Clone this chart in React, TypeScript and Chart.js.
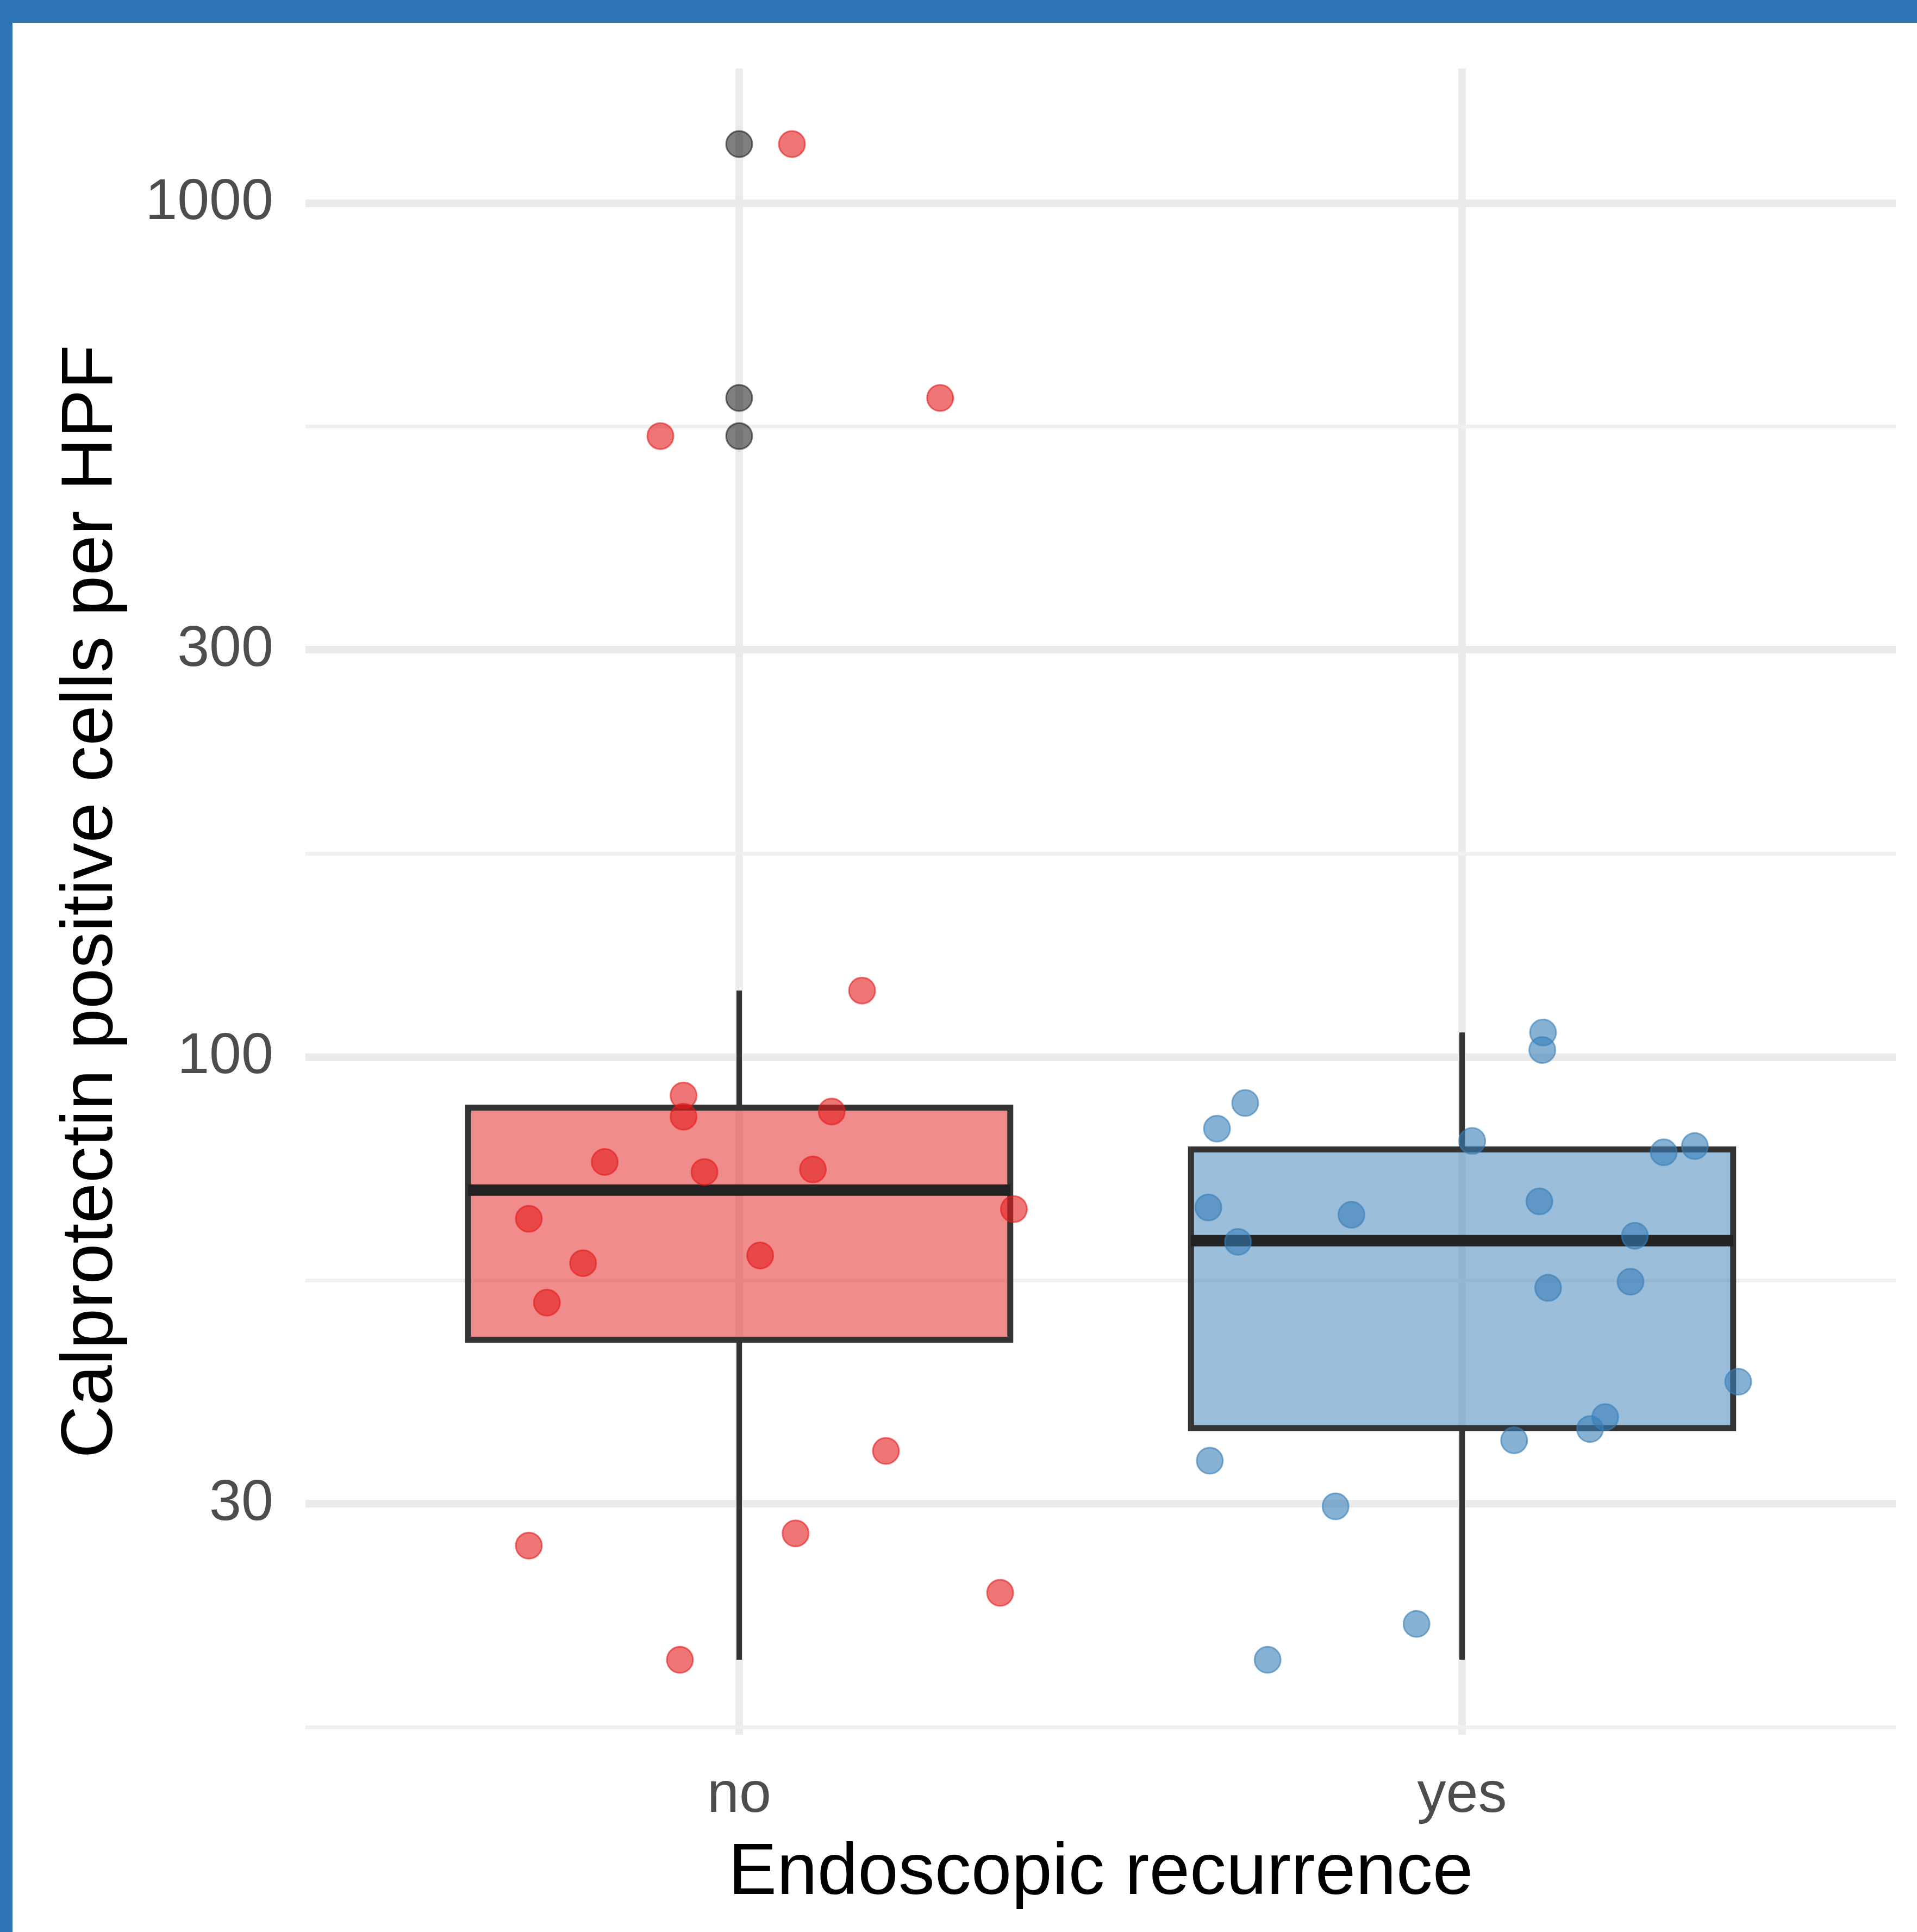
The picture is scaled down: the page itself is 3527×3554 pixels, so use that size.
import React, { useEffect, useRef } from 'react';
import { Chart, registerables } from 'chart.js';

Chart.register(...registerables);

// ---- data ----
const categories = ['no', 'yes'];
const yMajorTicks = [30, 100, 300, 1000];
const yMinorTicks = [16.43, 54.77, 173.2, 547.7];

const noValues = [1173, 591.6, 533.8, 119.7, 90.2, 85.2, 86.4, 75.4, 73.4, 73.9, 66.4, 64.7, 57.4, 58.6, 51.6, 34.6, 26.8, 27.7, 23.6, 19.7];
const noJitter = [0.073, 0.278, -0.109, 0.17, -0.077, -0.077, 0.128, -0.186, -0.048, 0.102, 0.38, -0.291, -0.216, 0.029, -0.266, 0.203, -0.291, 0.078, 0.361, -0.082];

const yesValues = [106.9, 102.0, 88.4, 82.5, 79.8, 77.4, 78.7, 66.7, 67.8, 65.4, 60.8, 61.8, 53.7, 54.6, 41.7, 37.9, 36.7, 35.6, 33.7, 29.8, 21.7, 19.7];
const yesJitter = [0.112, 0.111, -0.3, -0.339, 0.014, 0.279, 0.322, -0.351, 0.107, -0.153, -0.31, 0.239, 0.119, 0.233, 0.382, 0.198, 0.177, 0.072, -0.349, -0.175, -0.063, -0.269];

const noOutliers = [1173, 591.6, 533.8];

const boxQ1 = [46.7, 36.8];
const boxMedian = [69.9, 61.0];
const boxQ3 = [87.3, 78.0];
const whiskerLow = [19.7, 19.7];
const whiskerHigh = [119.7, 106.9];

// ---- styles ----
const FONT = "'Liberation Sans', Arial, Helvetica, sans-serif";
const boxFill = ['rgba(228,26,28,0.5)', 'rgba(55,126,184,0.5)'];
const pointFill = ['rgba(228,26,28,0.6)', 'rgba(55,126,184,0.6)'];
const BOX_HALF = 0.375;

const boxPlugin = {
  id: 'boxplotDraw',
  beforeDatasetsDraw(chart: any) {
    const { ctx, scales } = chart;
    const x = scales.x;
    const y = scales.y;
    ctx.save();
    categories.forEach((_, i) => {
      const c = i + 1;
      const cx = x.getPixelForValue(c);
      const l = x.getPixelForValue(c - BOX_HALF);
      const r = x.getPixelForValue(c + BOX_HALF);
      const yq1 = y.getPixelForValue(boxQ1[i]);
      const yq3 = y.getPixelForValue(boxQ3[i]);
      const ym = y.getPixelForValue(boxMedian[i]);
      const ylo = y.getPixelForValue(whiskerLow[i]);
      const yhi = y.getPixelForValue(whiskerHigh[i]);
      // whiskers
      ctx.strokeStyle = '#333333';
      ctx.lineWidth = 10;
      ctx.lineCap = 'butt';
      ctx.beginPath();
      ctx.moveTo(cx, yq3);
      ctx.lineTo(cx, yhi);
      ctx.moveTo(cx, yq1);
      ctx.lineTo(cx, ylo);
      ctx.stroke();
      // box
      ctx.fillStyle = boxFill[i];
      ctx.fillRect(l, yq3, r - l, yq1 - yq3);
      ctx.lineWidth = 11;
      ctx.lineJoin = 'miter';
      ctx.strokeRect(l, yq3, r - l, yq1 - yq3);
      // median
      ctx.strokeStyle = '#222222';
      ctx.lineWidth = 21;
      ctx.beginPath();
      ctx.moveTo(l, ym);
      ctx.lineTo(r, ym);
      ctx.stroke();
    });
    ctx.restore();
  },
};

export default function App() {
  const canvasRef = useRef<HTMLCanvasElement | null>(null);

  useEffect(() => {
    document.body.style.margin = '0';
    const canvas = canvasRef.current;
    if (!canvas) return;

    const chart = new Chart(canvas, {
      type: 'scatter',
      data: {
        datasets: [
          {
            label: 'no',
            data: noValues.map((v, i) => ({ x: 1 + noJitter[i], y: v })),
            backgroundColor: pointFill[0],
            borderColor: pointFill[0],
            borderWidth: 3,
            pointRadius: 24,
            order: 1,
          },
          {
            label: 'yes',
            data: yesValues.map((v, i) => ({ x: 2 + yesJitter[i], y: v })),
            backgroundColor: pointFill[1],
            borderColor: pointFill[1],
            borderWidth: 3,
            pointRadius: 24,
            order: 1,
          },
          {
            label: 'outliers',
            data: noOutliers.map((v) => ({ x: 1, y: v })),
            backgroundColor: 'rgba(0,0,0,0.5)',
            borderColor: 'rgba(0,0,0,0.5)',
            borderWidth: 3,
            pointRadius: 24,
            order: 2,
          },
        ],
      },
      options: {
        responsive: false,
        animation: false,
        devicePixelRatio: 1,
        layout: { padding: { top: 126, right: 39, left: 0, bottom: 0 } },
        plugins: {
          legend: { display: false },
          tooltip: { enabled: false },
        },
        scales: {
          x: {
            type: 'linear',
            min: 0.4,
            max: 2.6,
            bounds: 'data',
            afterBuildTicks: (s: any) => {
              s.ticks = categories.map((_, i) => ({ value: i + 1 }));
            },
            afterFit: (s: any) => {
              s.height = 363;
            },
            ticks: {
              autoSkip: false,
              maxRotation: 0,
              padding: 49,
              color: '#4D4D4D',
              font: { family: FONT, size: 106 },
              callback: (v: any) => categories[Math.round(Number(v)) - 1] ?? '',
            },
            grid: { color: '#EBEBEB', lineWidth: 14, drawTicks: false },
            border: { display: false },
            title: {
              display: true,
              text: 'Endoscopic recurrence',
              color: '#000000',
              font: { family: FONT, size: 134 },
              padding: { top: 0, bottom: 27 },
            },
          },
          y: {
            type: 'logarithmic',
            min: 16.1,
            max: 1438,
            bounds: 'data',
            afterBuildTicks: (s: any) => {
              s.ticks = [...yMinorTicks, ...yMajorTicks].sort((a, b) => a - b).map((v) => ({ value: v }));
            },
            afterFit: (s: any) => {
              s.width = 562;
            },
            ticks: {
              autoSkip: false,
              padding: 59,
              color: '#4D4D4D',
              font: { family: FONT, size: 106 },
              callback: (v: any) => (yMajorTicks.includes(Number(v)) ? String(v) : ''),
            },
            grid: {
              drawTicks: false,
              color: (c: any) => (c.tick && yMajorTicks.includes(c.tick.value) ? '#EBEBEB' : '#F0F0F0'),
              lineWidth: (c: any) => (c.tick && yMajorTicks.includes(c.tick.value) ? 14 : 7),
            },
            border: { display: false },
            title: {
              display: true,
              text: 'Calprotectin positive cells per HPF',
              color: '#000000',
              font: { family: FONT, size: 134 },
              padding: { top: 89, bottom: 0 },
            },
          },
        },
      } as any,
      plugins: [boxPlugin],
    });

    return () => chart.destroy();
  }, []);

  return (
    <div style={{ position: 'relative', width: 3527, height: 3554, background: '#ffffff', overflow: 'hidden' }}>
      <div style={{ position: 'absolute', left: 0, top: 0, width: 3527, height: 42, background: '#2E75B6' }} />
      <div style={{ position: 'absolute', left: 0, top: 0, width: 23, height: 3554, background: '#2E75B6' }} />
      <canvas
        ref={canvasRef}
        width={3527}
        height={3554}
        style={{ position: 'absolute', left: 0, top: 0, width: 3527, height: 3554, display: 'block' }}
      />
    </div>
  );
}
